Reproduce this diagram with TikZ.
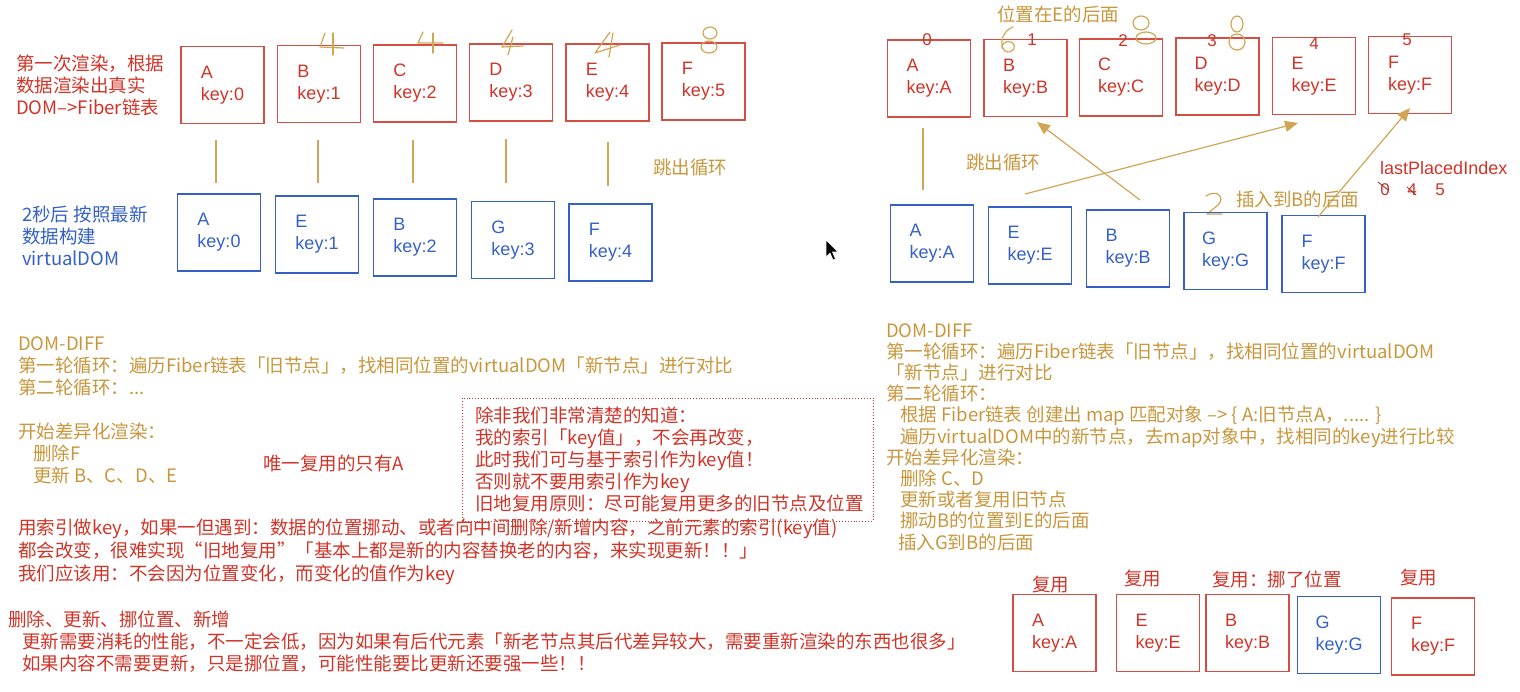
\documentclass[tikz,border=0pt]{standalone}
\usepackage{fontspec}
\setmainfont{Noto Sans CJK SC}
\newfontfamily\lat{Liberation Sans}
\usetikzlibrary{arrows.meta}
\definecolor{rd}{RGB}{208,52,40}
\definecolor{rdbox}{RGB}{212,78,68}
\definecolor{bl}{RGB}{52,96,200}
\definecolor{gd}{RGB}{210,165,85}
\definecolor{gdtxt}{RGB}{200,150,60}
\begin{document}
\begin{tikzpicture}[x=1pt,y=-1pt,
  every node/.style={inner sep=0pt},
  bx/.style={draw, line width=1.1pt, minimum width=83pt, minimum height=77pt, align=left, font=\lat\fontsize{18}{22}\selectfont, execute at begin node={\rule{0pt}{19pt}}},
  rbx/.style={bx, draw=rdbox, text=rd},
  bbx/.style={bx, draw=bl, text=bl},
  gline/.style={draw=gd, line width=1.2pt},
  garrow/.style={gline, -{Triangle[length=13pt,width=11pt]}},
  txt/.style={font=\fontsize{18.5}{22}\selectfont, align=left, anchor=north west},
  lbl/.style={font=\fontsize{18.5}{22}\selectfont, anchor=west},
  idx/.style={font=\lat\fontsize{17}{20}\selectfont, text=rd},
  hand/.style={draw=gd, line width=1.2pt, line cap=round, line join=round}
]
\useasboundingbox (0,0) rectangle (1520,691);

% ---------- left: first render ----------
\node[txt, text=rd] (t1) at (16,55) {第一次渲染，根据\\数据渲染出真实\\DOM–>Fiber链表};
\node[rbx] (lA) at (222.5,85) {A\\key:0};
\node[rbx] (lB) at (319,84) {B\\key:1};
\node[rbx] (lC) at (415,83.5) {C\\key:2};
\node[rbx] (lD) at (511,82.5) {D\\key:3};
\node[rbx] (lE) at (607.5,82.5) {E\\key:4};
\node[rbx] (lF) at (703.5,81.5) {F\\key:5};

% handwritten marks left
\draw[hand] (325,33) -- (320,47) -- (344,48); \draw[hand] (333,33) -- (333,55);
\draw[hand] (423,32) -- (418,43) -- (443,43); \draw[hand] (433,33) -- (433,53);
\draw[hand] (512,30) -- (502,47) -- (523,46); \draw[hand] (513,37) -- (508,55);
\draw[hand] (610,32) -- (595,53) -- (620,45); \draw[hand] (613,33) -- (609,57);
\draw[hand] (710,33) ellipse [x radius=7, y radius=6];
\draw[hand] (709,47) ellipse [x radius=8, y radius=6];

% ---------- left: virtual DOM ----------
\node[txt, text=bl] (t2) at (22,206) {2秒后 按照最新\\数据构建\\virtualDOM};
\node[bbx] (vA) at (219,232.5) {A\\key:0};
\node[bbx] (vE) at (317,234.5) {E\\key:1};
\node[bbx] (vB) at (415,237.5) {B\\key:2};
\node[bbx] (vG) at (513,240) {G\\key:3};
\node[bbx] (vF) at (610.5,242.5) {F\\key:4};

\coordinate (c1a) at (216,140); \coordinate (c1b) at (216,183);
\coordinate (c2a) at (318,140); \coordinate (c2b) at (318,183);
\coordinate (c3a) at (413,140); \coordinate (c3b) at (413,183);
\coordinate (c4a) at (506,139); \coordinate (c4b) at (506,183);
\coordinate (c5a) at (608,142); \coordinate (c5b) at (608,186);
\foreach \i in {1,...,5} {\draw[gline] (c\i a) -- (c\i b);}
\node[lbl, text=gdtxt] (jump1) at (653,168) {跳出循环};

% ---------- left: DOM-DIFF text ----------
\node[txt, text=gdtxt] (diff1) at (18,336) {DOM-DIFF\\第一轮循环：遍历Fiber链表「旧节点」，找相同位置的virtualDOM「新节点」进行对比\\第二轮循环：...\\[22pt]开始差异化渲染：\\\hspace*{15pt}删除F\\\hspace*{15pt}更新 B、C、D、E};
\node[lbl, text=rd] (only) at (263,463) {唯一复用的只有A};

\node[draw=rd, dotted, line width=0.9pt, minimum width=411pt, minimum height=123pt, text width=385pt, align=left, text=rd, font=\fontsize{18.5}{22}\selectfont] (note) at (667.5,459.5) {除非我们非常清楚的知道：\\我的索引「key值」，不会再改变，\\此时我们可与基于索引作为key值！\\否则就不要用索引作为key\\旧地复用原则：尽可能复用更多的旧节点及位置};

\node[txt, text=rd, font=\fontsize{18.5}{23}\selectfont] (para1) at (18,519) {用索引做key，如果一但遇到：数据的位置挪动、或者向中间删除/新增内容，之前元素的索引(key值)\\都会改变，很难实现“旧地复用”「基本上都是新的内容替换老的内容，来实现更新！！」\\我们应该用：不会因为位置变化，而变化的值作为key};
\node[txt, text=rd] (para2) at (8,611) {删除、更新、挪位置、新增\\\hspace*{14pt}更新需要消耗的性能，不一定会低，因为如果有后代元素「新老节点其后代差异较大，需要重新渲染的东西也很多」\\\hspace*{14pt}如果内容不需要更新，只是挪位置，可能性能要比更新还要强一些！！};

% ---------- right: first render ----------
\node[lbl, text=gdtxt] (pos) at (997,14) {位置在E的后面};
\node[rbx] (rA) at (929,78.5) {A\\key:A};
\node[rbx] (rB) at (1025.5,78) {B\\key:B};
\node[rbx] (rC) at (1121,77.5) {C\\key:C};
\node[rbx] (rD) at (1217.5,76.5) {D\\key:D};
\node[rbx] (rE) at (1314,76) {E\\key:E};
\node[rbx] (rF) at (1410,75) {F\\key:F};
\node[idx] (i0) at (927,40) {0};
\node[idx] (i1) at (1032,40) {1};
\node[idx] (i2) at (1123,41) {2};
\node[idx] (i3) at (1212,41) {3};
\node[idx] (i4) at (1314,44) {4};
\node[idx] (i5) at (1407,40) {5};

% handwritten marks right
\draw[hand] (1013,27) .. controls (1003,30) and (998,45) .. (1005,51) .. controls (1012,55) and (1019,46) .. (1011,42) .. controls (1005,40) and (1001,45) .. (1002,48);
\draw[hand] (1141,23) ellipse [x radius=8, y radius=7];
\draw[hand] (1146,38) ellipse [x radius=10, y radius=6];
\draw[hand] (1237,24) ellipse [x radius=6, y radius=8];
\draw[hand] (1237,42) ellipse [x radius=8, y radius=8];
\draw[hand] (1206,196) .. controls (1216,189) and (1226,197) .. (1218,205) -- (1207,214) -- (1222,214);

% ---------- right: virtual DOM ----------
\node[bbx] (wA) at (932,243.5) {A\\key:A};
\node[bbx] (wE) at (1030,245.5) {E\\key:E};
\node[bbx] (wB) at (1128,248.5) {B\\key:B};
\node[bbx] (wG) at (1225.5,251) {G\\key:G};
\node[bbx] (wF) at (1323.5,254) {F\\key:F};

\coordinate (r1a) at (923,128); \coordinate (r1b) at (923,190);
\draw[gline] (r1a) -- (r1b);
\coordinate (bS) at (1140,200); \coordinate (bT) at (1037,122);
\draw[garrow] (bS) -- (bT);
\coordinate (eS) at (1025,194); \coordinate (eT) at (1298,123);
\draw[garrow] (eS) -- (eT);
\coordinate (fS) at (1318,217); \coordinate (fT) at (1410,108);
\draw[garrow] (fS) -- (fT);

\node[lbl, text=gdtxt] (jump2) at (966,163) {跳出循环};
\node[lbl, text=gdtxt] (ins) at (1236,199) {插入到B的后面};
\node[lbl, text=rd, font=\lat\fontsize{18}{22}\selectfont] (lpi) at (1380,168) {lastPlacedIndex};
\node[idx] (n0) at (1385,190) {0};
\node[idx] (n4) at (1412,190) {4};
\node[idx] (n5) at (1440,190) {5};
\draw[rd!70!black, line width=0.8pt] (1378,182) -- (1388,190);
\draw[rd!70!black, line width=0.8pt] (1407,187) -- (1416,195);

% cursor
\draw[white, line width=0.6pt, fill=black] (826,240) -- (826,257) -- (830,253) -- (833,260) -- (835.5,259) -- (832.5,252) -- (838,252) -- cycle;

% ---------- right: DOM-DIFF text ----------
\node[txt, text=gdtxt, font=\fontsize{18.5}{21.2}\selectfont] (diff2) at (886,323) {DOM-DIFF\\第一轮循环：遍历Fiber链表「旧节点」，找相同位置的virtualDOM\\「新节点」进行对比\\第二轮循环：\\\hspace*{14pt}根据 Fiber链表 创建出 map 匹配对象 –> \{ A:旧节点A，..... \}\\\hspace*{14pt}遍历virtualDOM中的新节点，去map对象中，找相同的key进行比较\\开始差异化渲染：\\\hspace*{14pt}删除 C、D\\\hspace*{14pt}更新或者复用旧节点\\\hspace*{14pt}挪动B的位置到E的后面\\\hspace*{12pt}插入G到B的后面};

% ---------- right: result ----------
\node[rbx] (xA) at (1054.5,633) {A\\key:A};
\node[rbx] (xE) at (1158,633) {E\\key:E};
\node[rbx] (xB) at (1247.5,633) {B\\key:B};
\node[bbx] (xG) at (1339,635) {G\\key:G};
\node[rbx] (xF) at (1433,636.5) {F\\key:F};
\node[lbl, text=rd] (u1) at (1032,585) {复用};
\node[lbl, text=rd] (u2) at (1124,579) {复用};
\node[lbl, text=rd] (u3) at (1212,579) {复用：挪了位置};
\node[lbl, text=rd] (u4) at (1400,578) {复用};
\end{tikzpicture}
\end{document}
